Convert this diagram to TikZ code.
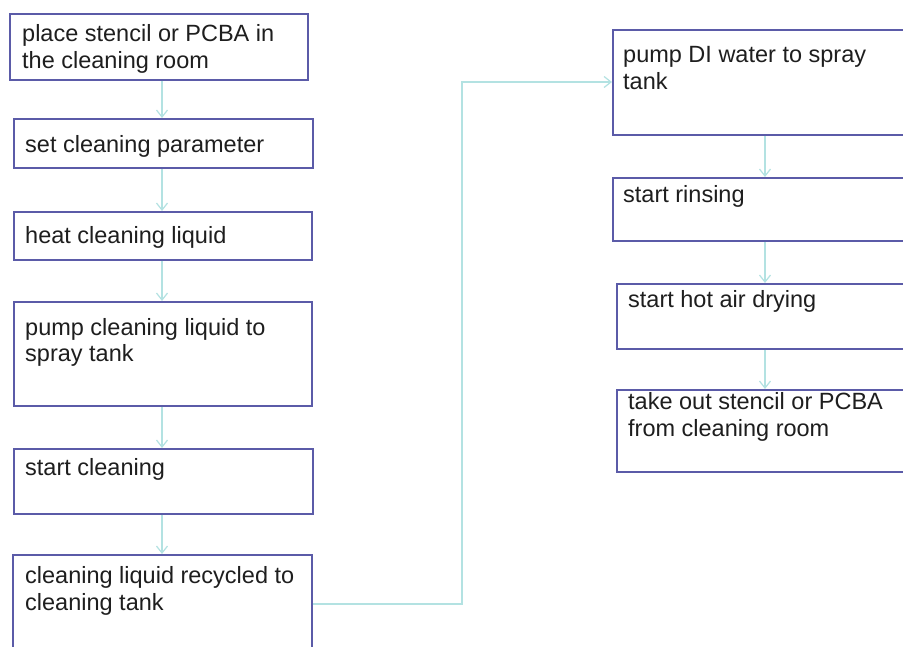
\documentclass[tikz,border=0pt]{standalone}
\usepackage{fontspec}
\setmainfont{Liberation Sans}
\usetikzlibrary{arrows.meta}
\definecolor{boxc}{HTML}{5B5BA8}
\definecolor{arrc}{HTML}{B3E2E2}
\definecolor{txtc}{HTML}{1E1E1E}
\tikzset{
  stepbox/.style={draw=boxc, line width=1.8pt, rectangle, inner sep=0pt, anchor=north west},
  steptext/.style={anchor=base west, inner sep=0pt, align=left, text=txtc,
    font=\fontsize{23.5}{27}\selectfont},
  conn/.style={draw=arrc, line width=1.6pt, -{Straight Barb[length=7pt,width=11pt,line width=1.2pt]}},
}
\begin{document}
\begin{tikzpicture}[x=1pt,y=-1pt]
\useasboundingbox (0,0) rectangle (903,647);
\fill[white] (0,0) rectangle (903,647);
% boxes: (x1,y1) with width/height
\node[stepbox, minimum width=298pt, minimum height=66pt] (b1) at (9,13) {};
\node[stepbox, minimum width=299pt, minimum height=49pt] (b2) at (13,118) {};
\node[stepbox, minimum width=298pt, minimum height=48pt] (b3) at (13,211) {};
\node[stepbox, minimum width=298pt, minimum height=104pt] (b4) at (13,301) {};
\node[stepbox, minimum width=299pt, minimum height=65pt] (b5) at (13,448) {};
\node[stepbox, minimum width=299pt, minimum height=110pt] (b6) at (12,554) {};
\node[stepbox, minimum width=306pt, minimum height=105pt] (b7) at (612,29) {};
\node[stepbox, minimum width=306pt, minimum height=63pt] (b8) at (612,177) {};
\node[stepbox, minimum width=298pt, minimum height=65pt] (b9) at (616,283) {};
\node[stepbox, minimum width=298pt, minimum height=82pt] (b10) at (616,389) {};
% texts (base anchor of a two-line node is its last line)
\node[steptext] (t1) at (22,69) {place stencil or PCBA in\\the cleaning room};
\node[steptext] (t2) at (25,153) {set cleaning parameter};
\node[steptext] (t3) at (25,244) {heat cleaning liquid};
\node[steptext] (t4) at (25,362) {pump cleaning liquid to\\spray tank};
\node[steptext] (t5) at (25,475) {start cleaning};
\node[steptext] (t6) at (25,610) {cleaning liquid recycled to\\cleaning tank};
\node[steptext] (t7) at (623,90) {pump DI water to spray\\tank};
\node[steptext] (t8) at (623,203) {start rinsing};
\node[steptext] (t9) at (628,308) {start hot air drying};
\node[steptext] (t10) at (628,436) {take out stencil or PCBA\\from cleaning room};
% connectors
\coordinate (lc) at (162,0);
\coordinate (rc) at (765,0);
\draw[conn] (b1.south -| lc) -- (b2.north -| lc);
\draw[conn] (b2.south -| lc) -- (b3.north -| lc);
\draw[conn] (b3.south -| lc) -- (b4.north -| lc);
\draw[conn] (b4.south -| lc) -- (b5.north -| lc);
\draw[conn] (b5.south -| lc) -- (b6.north -| lc);
\coordinate (e1) at (462,604);
\coordinate (e2) at (462,82);
\draw[conn] (b6.east |- e1) -- (e1) -- (e2) -- (b7.west |- e2);
\draw[conn] (b7.south -| rc) -- (b8.north -| rc);
\draw[conn] (b8.south -| rc) -- (b9.north -| rc);
\draw[conn] (b9.south -| rc) -- (b10.north -| rc);
\end{tikzpicture}
\end{document}
